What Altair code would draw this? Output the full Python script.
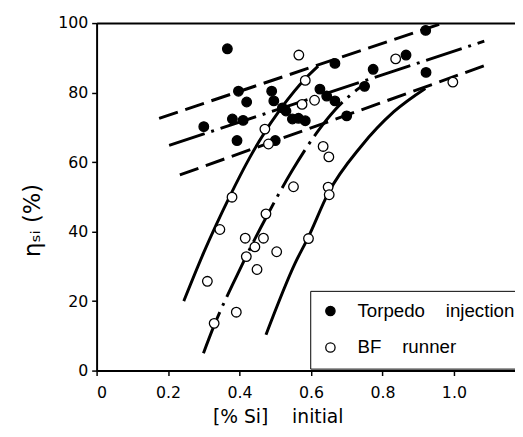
import altair as alt
import pandas as pd

# ---- data ----
torpedo_x = [0.30, 0.366, 0.38, 0.41, 0.393, 0.397, 0.42, 0.49, 0.496, 0.52, 0.53, 0.50,
             0.548, 0.565, 0.584, 0.625, 0.644, 0.667, 0.667, 0.70, 0.75, 0.774, 0.866, 0.921, 0.922]
torpedo_y = [70.2, 92.6, 72.4, 72.0, 66.2, 80.4, 77.3, 80.4, 77.6, 75.6, 74.7, 66.2,
             72.4, 72.6, 71.9, 81.0, 79.0, 77.6, 88.4, 73.3, 81.8, 86.7, 90.8, 97.9, 85.8]

bf_x = [0.566, 0.584, 0.575, 0.61, 0.471, 0.481, 0.837, 0.997, 0.634, 0.65, 0.648, 0.651,
        0.593, 0.379, 0.345, 0.474, 0.551, 0.416, 0.467, 0.443, 0.419, 0.504, 0.449,
        0.31, 0.391, 0.329]
bf_y = [90.8, 83.5, 76.6, 77.8, 69.5, 65.2, 89.7, 83.0, 64.5, 61.5, 52.8, 50.6,
        38.0, 49.9, 40.6, 45.1, 52.9, 38.1, 38.1, 35.6, 32.8, 34.2, 29.1,
        25.7, 16.8, 13.6]

upper_x = [0.175, 0.99]
upper_y = [72.6, 100.7]
middle_x = [0.203, 1.085]
middle_y = [64.8, 94.8]
lower_x = [0.233, 1.098]
lower_y = [56.3, 88.2]

curve_a_x = [0.244, 0.30, 0.372, 0.427, 0.455, 0.52, 0.584, 0.62]
curve_a_y = [20.0, 34.0, 50.0, 61.0, 66.0, 76.0, 84.0, 87.6]
curve_b_x = [0.299, 0.329, 0.391, 0.446, 0.474, 0.547, 0.62, 0.667, 0.75]
curve_b_y = [5.0, 13.0, 27.0, 38.5, 44.0, 57.5, 69.0, 75.0, 82.5]
curve_c_x = [0.474, 0.556, 0.593, 0.648, 0.74, 0.832, 0.92]
curve_c_y = [10.3, 31.0, 38.5, 51.0, 64.5, 74.5, 81.2]

x_ticks = [0, 0.2, 0.4, 0.6, 0.8, 1.0]
y_ticks = [0, 20, 40, 60, 80, 100]

series_names = ["Torpedo" + "\u00a0" * 4 + "injection", "BF" + "\u00a0" * 4 + "runner"]

# ---- chart ----
xscale = alt.Scale(domain=[0, 1.171], nice=False, zero=False)
yscale = alt.Scale(domain=[0, 100], nice=False)

pts = pd.DataFrame({
    "x": torpedo_x + bf_x,
    "y": torpedo_y + bf_y,
    "series": [series_names[0]] * len(torpedo_x) + [series_names[1]] * len(bf_x),
})


def line_layer(xs, ys, dash=None, x_axis=None):
    df = pd.DataFrame({"x": xs, "y": ys})
    kw = dict(color="black", strokeWidth=3, clip=True, interpolate="monotone")
    if dash is not None:
        kw["strokeDash"] = dash
    return alt.Chart(df).mark_line(**kw).encode(
        x=alt.X("x:Q", scale=xscale, axis=x_axis),
        y=alt.Y("y:Q", scale=yscale, axis=None),
    )


top_axis = alt.Axis(orient="top", labels=False, ticks=False, domain=True, grid=False,
                    title=None, domainColor="black", domainWidth=2)

layers = [
    line_layer(upper_x, upper_y, [20, 8], x_axis=top_axis),
    line_layer(middle_x, middle_y, [38, 7, 3, 7]),
    line_layer(lower_x, lower_y, [20, 8]),
    line_layer(curve_a_x, curve_a_y),
    line_layer(curve_b_x, curve_b_y, [45, 7, 3, 7]),
    line_layer(curve_c_x, curve_c_y),
]

points = alt.Chart(pts).mark_circle(opacity=1, size=95, stroke="black", strokeWidth=1.3).encode(
    x=alt.X("x:Q", scale=xscale, axis=alt.Axis(
        values=x_ticks, grid=False,
        labelExpr="datum.value == 0 ? '0' : format(datum.value, '.1f')",
        title="[% Si]\u00a0\u00a0\u00a0\u00a0initial",
        titleX=184, titleY=38, titleBaseline="top", titleAlign="center",
        labelPadding=9, tickSize=5,
    )),
    y=alt.Y("y:Q", scale=yscale, axis=alt.Axis(
        values=y_ticks, grid=False,
        title="ηₛᵢ  (%)", titleFontSize=23,
        titleAngle=270, titleX=-65, titleY=200, titleBaseline="middle", titleAlign="center",
        labelPadding=4, tickSize=5,
    )),
    fill=alt.Fill("series:N", sort=series_names,
                  scale=alt.Scale(domain=series_names, range=["black", "white"]),
                  legend=alt.Legend(orient="none", legendX=217, legendY=272, title=None,
                                    strokeColor="black", padding=11, rowPadding=17,
                                    labelFontSize=19, labelFont="Liberation Sans",
                                    labelOffset=18, symbolSize=90, symbolType="circle",
                                    symbolStrokeColor="black", symbolStrokeWidth=1.3,
                                    labelLimit=400)),
)

chart = alt.layer(*layers, points).resolve_axis(x="independent", y="independent").properties(
    width=425, height=353,
    padding={"left": 90, "top": 12, "right": 0, "bottom": 56},
    autosize=alt.AutoSizeParams(type="none"),
    background="white",
).configure_view(stroke=None).configure_axis(
    domainColor="black", domainWidth=2, tickColor="black", tickWidth=1.5,
    labelColor="black", labelFont="DejaVu Sans", labelFontSize=16,
    titleColor="black", titleFont="DejaVu Sans", titleFontSize=19, titleFontWeight="normal",
).configure_legend(labelColor="black")

chart.save("out.html", embed_options={"renderer": "svg", "actions": False})
